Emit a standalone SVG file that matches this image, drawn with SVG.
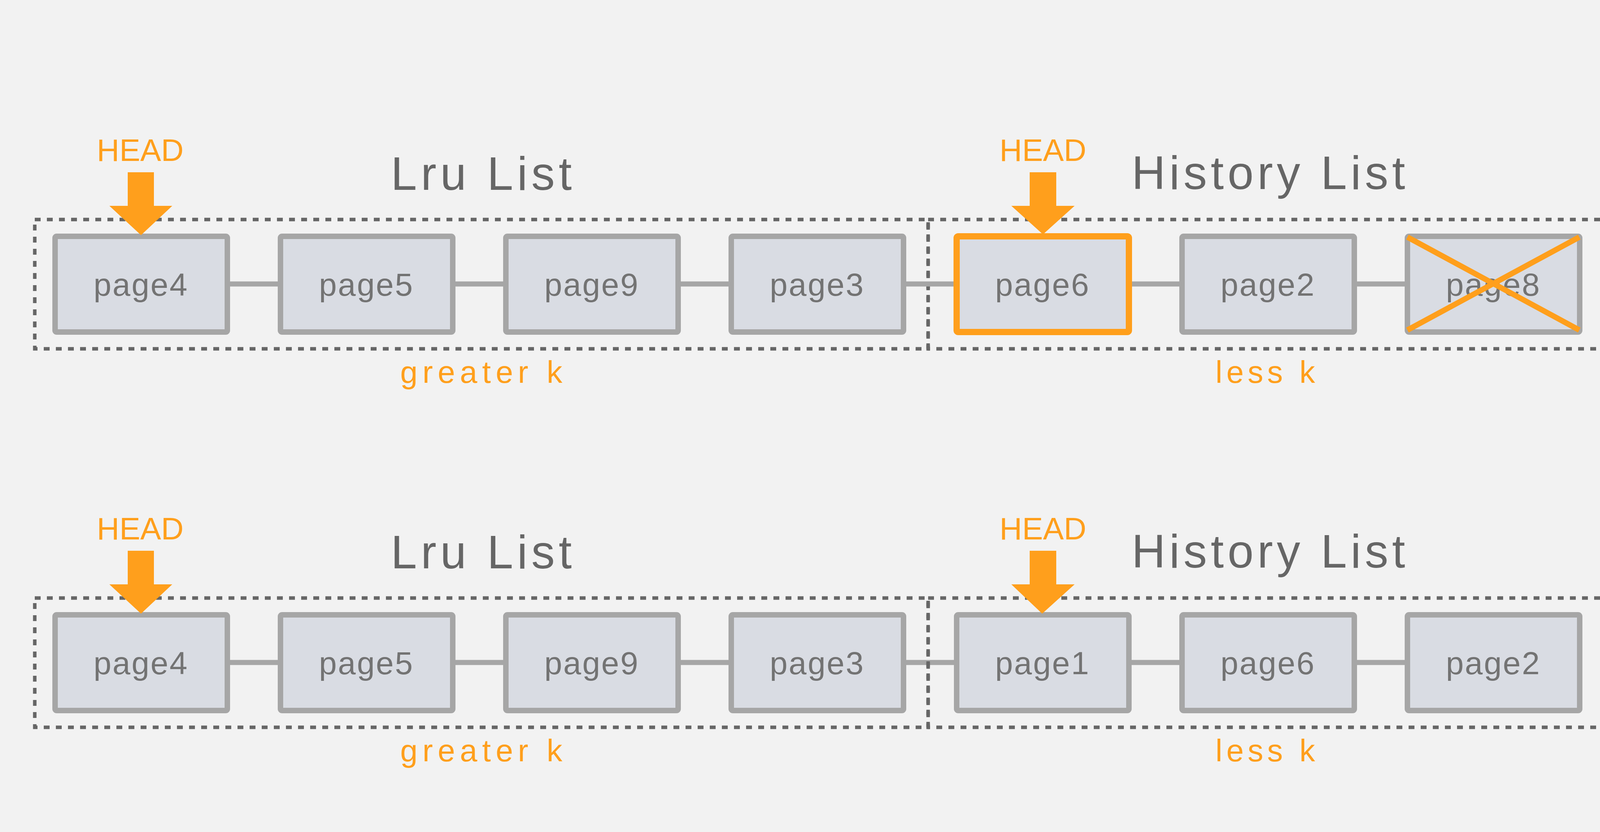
<svg xmlns="http://www.w3.org/2000/svg" width="5712" height="2130" viewBox="0 0 5712 2130">
<style>
.bg{fill:#f2f2f2}
.page{fill:#d9dce3;stroke:#a6a6a6;stroke-width:14}
.hot{fill:#d9dce3;stroke:#ff9f1c;stroke-width:16}
.lbl{font-family:"Liberation Sans",Arial,sans-serif;font-size:82px;fill:#737373;text-anchor:middle;letter-spacing:3px}
.title{font-family:"Liberation Sans",Arial,sans-serif;font-size:120px;fill:#666666;text-anchor:middle}
.org{font-family:"Liberation Sans",Arial,sans-serif;font-size:80px;fill:#ff9f1c;text-anchor:middle}
.grp{fill:none;stroke:#666666;stroke-width:9;stroke-dasharray:15 16}
.conn{stroke:#a6a6a6;stroke-width:13;fill:none}
.arrow{fill:#ff9f1c}
.cross{stroke:#ff9f1c;stroke-width:14;fill:none}
.disk{fill:#f2f2f2;stroke:#969696;stroke-width:14}
</style>
<rect class="bg" x="0" y="0" width="5712" height="2130"/>
<g id="row1-groups">
<rect class="grp" x="89" y="562" width="2287" height="331"/>
<rect class="grp" x="2376" y="562" width="1728" height="331"/>
<text class="title" x="1232" y="486" textLength="463" lengthAdjust="spacing">Lru List</text>
<text class="title" x="3247" y="484" textLength="700" lengthAdjust="spacing">History List</text>
<text class="org" x="1232" y="980" textLength="415" lengthAdjust="spacing">greater k</text>
<text class="org" x="3239" y="980" textLength="255" lengthAdjust="spacing">less k</text>
</g>
<g id="connectors">
<line class="conn" x1="582" y1="727" x2="718" y2="727"/>
<line class="conn" x1="1159" y1="727" x2="1295" y2="727"/>
<line class="conn" x1="1736" y1="727" x2="1872" y2="727"/>
<line class="conn" x1="2313" y1="727" x2="2449" y2="727"/>
<line class="conn" x1="2890" y1="727" x2="3026" y2="727"/>
<line class="conn" x1="3467" y1="727" x2="3603" y2="727"/>
<line class="conn" x1="582" y1="1696" x2="718" y2="1696"/>
<line class="conn" x1="1159" y1="1696" x2="1295" y2="1696"/>
<line class="conn" x1="1736" y1="1696" x2="1872" y2="1696"/>
<line class="conn" x1="2313" y1="1696" x2="2449" y2="1696"/>
<line class="conn" x1="2890" y1="1696" x2="3026" y2="1696"/>
<line class="conn" x1="3467" y1="1696" x2="3603" y2="1696"/>
</g>
<g id="r1-page4"><rect class="page" x="141" y="605" width="441" height="245" rx="4"/><text class="lbl" x="361" y="757">page4</text></g>
<g id="r1-page5"><rect class="page" x="718" y="605" width="441" height="245" rx="4"/><text class="lbl" x="938" y="757">page5</text></g>
<g id="r1-page9"><rect class="page" x="1295" y="605" width="441" height="245" rx="4"/><text class="lbl" x="1515" y="757">page9</text></g>
<g id="r1-page3"><rect class="page" x="1872" y="605" width="441" height="245" rx="4"/><text class="lbl" x="2092" y="757">page3</text></g>
<g id="r1-page6"><rect class="hot" x="2449" y="605" width="441" height="245" rx="4"/><text class="lbl" x="2669" y="757">page6</text></g>
<g id="r1-page2"><rect class="page" x="3026" y="605" width="441" height="245" rx="4"/><text class="lbl" x="3246" y="757">page2</text></g>
<g id="r1-page8"><rect class="page" x="3603" y="605" width="441" height="245" rx="4"/><text class="lbl" x="3823" y="757">page8</text>
<line class="cross" x1="3603" y1="607" x2="4043" y2="845"/><line class="cross" x1="4043" y1="607" x2="3603" y2="845"/></g>
<g id="r1-head-lru"><text class="org" x="359" y="412">HEAD</text><polygon class="arrow" points="327,441 394,441 394,527 441,527 361,602 280,527 327,527"/></g>
<g id="r1-head-hist"><text class="org" x="2670" y="412">HEAD</text><polygon class="arrow" points="2636,441 2704,441 2704,527 2751,527 2670,600 2589,527 2636,527"/></g>
<g id="row2-groups">
<rect class="grp" x="89" y="1531" width="2287" height="331"/>
<rect class="grp" x="2376" y="1531" width="1728" height="331"/>
<text class="title" x="1232" y="1455" textLength="463" lengthAdjust="spacing">Lru List</text>
<text class="title" x="3247" y="1453" textLength="700" lengthAdjust="spacing">History List</text>
<text class="org" x="1232" y="1949" textLength="415" lengthAdjust="spacing">greater k</text>
<text class="org" x="3239" y="1949" textLength="255" lengthAdjust="spacing">less k</text>
</g>
<g id="r2-page4"><rect class="page" x="141" y="1574" width="441" height="245" rx="4"/><text class="lbl" x="361" y="1726">page4</text></g>
<g id="r2-page5"><rect class="page" x="718" y="1574" width="441" height="245" rx="4"/><text class="lbl" x="938" y="1726">page5</text></g>
<g id="r2-page9"><rect class="page" x="1295" y="1574" width="441" height="245" rx="4"/><text class="lbl" x="1515" y="1726">page9</text></g>
<g id="r2-page3"><rect class="page" x="1872" y="1574" width="441" height="245" rx="4"/><text class="lbl" x="2092" y="1726">page3</text></g>
<g id="r2-page1"><rect class="page" x="2449" y="1574" width="441" height="245" rx="4"/><text class="lbl" x="2669" y="1726">page1</text></g>
<g id="r2-page6"><rect class="page" x="3026" y="1574" width="441" height="245" rx="4"/><text class="lbl" x="3246" y="1726">page6</text></g>
<g id="r2-page2"><rect class="page" x="3603" y="1574" width="441" height="245" rx="4"/><text class="lbl" x="3823" y="1726">page2</text></g>
<g id="r2-head-lru"><text class="org" x="359" y="1381">HEAD</text><polygon class="arrow" points="327,1410 394,1410 394,1496 441,1496 361,1571 280,1496 327,1496"/></g>
<g id="r2-head-hist"><text class="org" x="2670" y="1381">HEAD</text><polygon class="arrow" points="2636,1410 2704,1410 2704,1496 2751,1496 2668,1571 2589,1496 2636,1496"/></g>
<g id="disk">
<text class="title" x="5051" y="165" textLength="670" lengthAdjust="spacing">Disk Pages</text>
<rect class="disk" x="4522" y="231" width="1063" height="1807" rx="4"/>
</g>
<g id="disk-page0"><rect class="page" x="4568" y="286" width="970" height="246" rx="4"/><text class="lbl" x="5053" y="439">page0</text></g>
<g id="disk-page1"><rect class="page" x="4568" y="577" width="970" height="246" rx="4"/><text class="lbl" x="5053" y="730">page1</text></g>
<g id="disk-page2"><rect class="page" x="4568" y="867" width="970" height="246" rx="4"/><text class="lbl" x="5053" y="1020">page2</text></g>
<g id="disk-page3"><rect class="page" x="4568" y="1158" width="970" height="246" rx="4"/><text class="lbl" x="5053" y="1311">page3</text></g>
<g id="disk-page4"><rect class="page" x="4568" y="1448" width="970" height="246" rx="4"/><text class="lbl" x="5053" y="1601">page4</text></g>
<g id="disk-page5"><rect class="page" x="4568" y="1737" width="970" height="246" rx="4"/><text class="lbl" x="5053" y="1890">page5</text></g>
<g id="q1"><text class="org" x="4299" y="726" textLength="92" lengthAdjust="spacingAndGlyphs">Q1</text><polygon class="arrow" points="4376,663 4497,665 4497,618 4571,699 4497,778 4497,731 4376,729"/></g>
</svg>
